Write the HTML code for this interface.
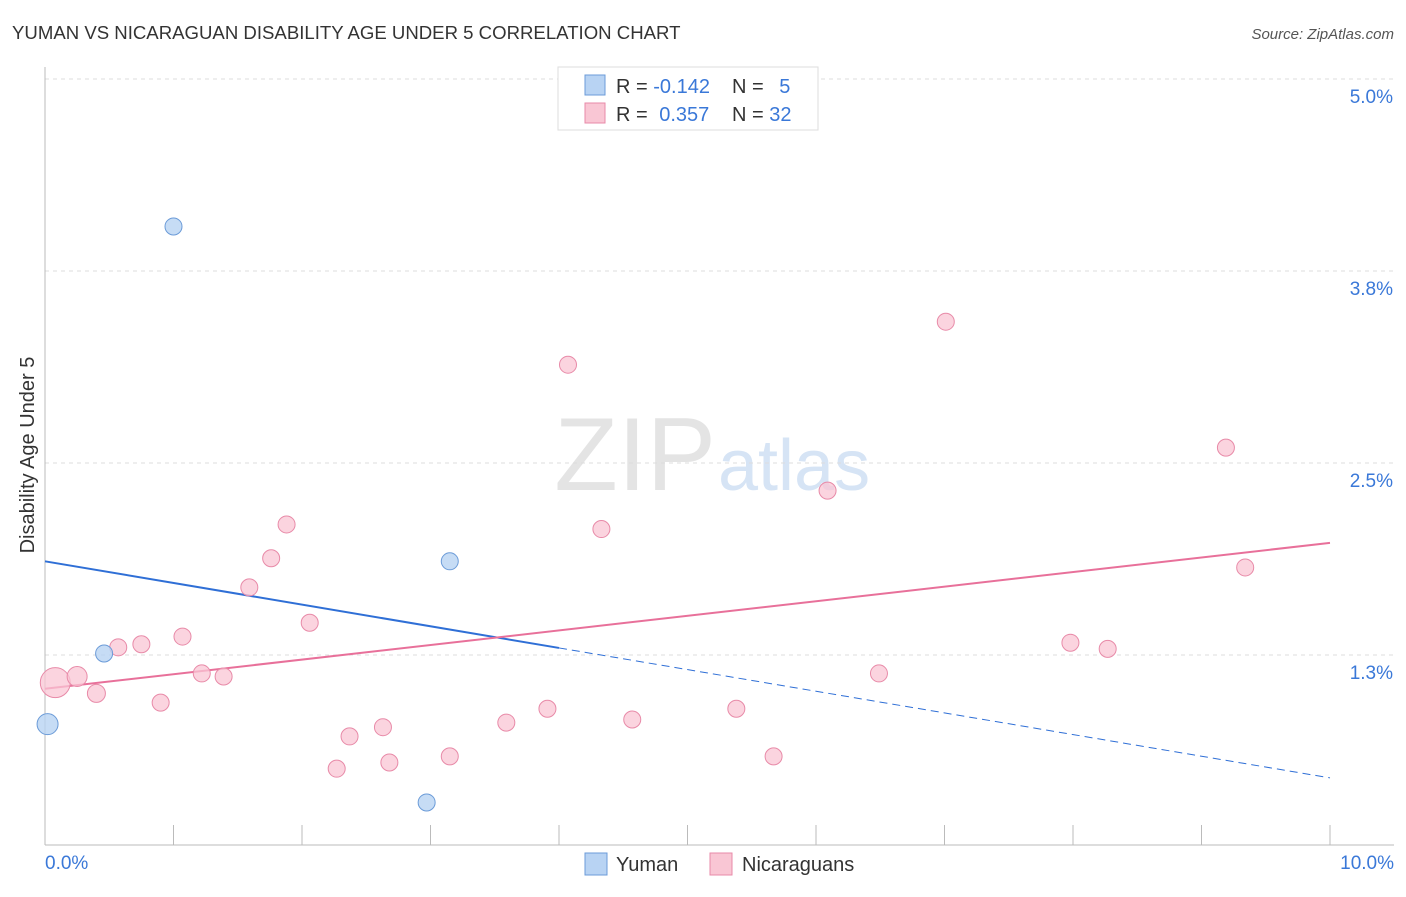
<!DOCTYPE html>
<html><head><meta charset="utf-8"><style>
body{margin:0;background:#fff;font-family:"Liberation Sans",sans-serif;}
svg text{font-family:"Liberation Sans",sans-serif;}
</style></head><body>
<svg id="chart" width="1406" height="892" xmlns="http://www.w3.org/2000/svg">
<text x="12" y="39" font-size="18.6" fill="#333">YUMAN VS NICARAGUAN DISABILITY AGE UNDER 5 CORRELATION CHART</text>
<text x="1394" y="39" font-size="15" fill="#555" text-anchor="end" font-style="italic">Source: ZipAtlas.com</text>
<text x="716" y="490" font-size="104" fill="#e4e4e4" text-anchor="end" font-family="Liberation Serif">ZIP</text>
<text x="718" y="490" font-size="72" fill="#d6e4f5">atlas</text>
<g id="grid"></g><g id="axes"></g><g id="lines"></g><g id="points"></g>
<text x="0" y="0" font-size="20" fill="#333" transform="translate(34,455) rotate(-90)" text-anchor="middle">Disability Age Under 5</text>
<text x="45" y="869" font-size="19" fill="#3a78d8">0.0%</text>
<text x="1394" y="869" font-size="19" fill="#3a78d8" text-anchor="end">10.0%</text>
<g>
<rect x="558" y="67" width="260" height="63" fill="#fff" stroke="#ddd"/>
<rect x="585" y="75" width="20" height="20" fill="#b8d3f3" stroke="#6b9bd8"/>
<rect x="585" y="103" width="20" height="20" fill="#f9c6d4" stroke="#e88aa8"/>
<text x="616" y="93" font-size="20" fill="#333">R = <tspan fill="#3a78d8">-0.142</tspan></text>
<text x="732" y="93" font-size="20" fill="#333">N = <tspan fill="#3a78d8" dx="10">5</tspan></text>
<text x="616" y="121" font-size="20" fill="#333">R = <tspan fill="#3a78d8" dx="6">0.357</tspan></text>
<text x="732" y="121" font-size="20" fill="#333">N = <tspan fill="#3a78d8">32</tspan></text>
</g>
<g>
<rect x="585" y="853" width="22" height="22" fill="#b8d3f3" stroke="#6b9bd8"/>
<text x="616" y="871" font-size="20" fill="#333">Yuman</text>
<rect x="710" y="853" width="22" height="22" fill="#f9c6d4" stroke="#e88aa8"/>
<text x="742" y="871" font-size="20" fill="#333">Nicaraguans</text>
</g>
</svg>
<script>
const yTicks=[1.25,2.5,3.75,5.0];
const yTickLabels=["1.3%","2.5%","3.8%","5.0%"];
const xTicks=[0,1,2,3,4,5,6,7,8,9,10];
const yumanX=[1.0,0.46,3.15,2.97,0.02];
const yumanY=[4.04,1.26,1.86,0.29,0.80];
const yumanR=[8.5,8.5,8.5,8.5,10.5];
const nicX=[0.08,0.25,0.40,0.57,0.75,0.90,1.07,1.22,1.39,1.59,1.76,1.88,2.06,2.27,2.37,2.63,2.68,3.15,3.59,3.91,4.07,4.33,4.57,5.38,5.67,6.09,6.49,7.01,7.98,8.27,9.19,9.34];
const nicY=[1.07,1.11,1.00,1.30,1.32,0.94,1.37,1.13,1.11,1.69,1.88,2.10,1.46,0.51,0.72,0.78,0.55,0.59,0.81,0.90,3.14,2.07,0.83,0.90,0.59,2.32,1.13,3.42,1.33,1.29,2.60,1.82];
const nicR=[15,10,9,8.5,8.5,8.5,8.5,8.5,8.5,8.5,8.5,8.5,8.5,8.5,8.5,8.5,8.5,8.5,8.5,8.5,8.5,8.5,8.5,8.5,8.5,8.5,8.5,8.5,8.5,8.5,8.5,8.5];
const yumanTrend=[1.86,0.45];
const yumanSolidEnd=4.0;
const nicTrend=[1.03,1.98];
const NS="http://www.w3.org/2000/svg";
const X=v=>45+v*128.5, Y=v=>79+(5-v)*153.6;
function mk(t,a,p){const e=document.createElementNS(NS,t);for(const k in a)e.setAttribute(k,a[k]);p.appendChild(e);return e;}
const grid=document.getElementById('grid'),axes=document.getElementById('axes'),lines=document.getElementById('lines'),pts=document.getElementById('points');
yTicks.forEach((t,i)=>{
 const l=mk('line',{x1:45,x2:1394,y1:Y(t),y2:Y(t),stroke:'#ddd','stroke-dasharray':'4,4'},grid);
 
 
 const tx=mk('text',{x:1393,y:Y(t)+24,'font-size':19,fill:'#3a78d8','text-anchor':'end'},grid);
 tx.textContent=yTickLabels[i];
 
 
});
const xa=mk('line',{x1:45,x2:1394,y1:845,y2:845,stroke:'#bbb'},axes);


const ya=mk('line',{x1:45,x2:45,y1:67,y2:845,stroke:'#bbb'},axes);


xTicks.forEach(t=>{
 const l=mk('line',{x1:X(t),x2:X(t),y1:825,y2:845,stroke:'#bbb'},axes);
 
 
});
const yAt=f=>yumanTrend[0]+(yumanTrend[1]-yumanTrend[0])*f/10;
const l1=mk('line',{x1:X(0),y1:Y(yumanTrend[0]),x2:X(yumanSolidEnd),y2:Y(yAt(yumanSolidEnd)),stroke:'#2f6fd6','stroke-width':2},lines);


const l2=mk('line',{x1:X(yumanSolidEnd),y1:Y(yAt(yumanSolidEnd)),x2:X(10),y2:Y(yumanTrend[1]),stroke:'#2f6fd6','stroke-width':1,'stroke-dasharray':'8,5'},lines);


const l3=mk('line',{x1:X(0),y1:Y(nicTrend[0]),x2:X(10),y2:Y(nicTrend[1]),stroke:'#e8709a','stroke-width':2},lines);


nicX.forEach((x,i)=>{
 const c=mk('circle',{cx:X(x),cy:Y(nicY[i]),r:nicR[i],fill:'#f9c6d4','fill-opacity':0.75,stroke:'#e88aa8','stroke-width':1},pts);
 
 
});
yumanX.forEach((x,i)=>{
 const c=mk('circle',{cx:X(x),cy:Y(yumanY[i]),r:yumanR[i],fill:'#b8d3f3','fill-opacity':0.8,stroke:'#6b9bd8','stroke-width':1},pts);
 
 
});
</script>
</body></html>
